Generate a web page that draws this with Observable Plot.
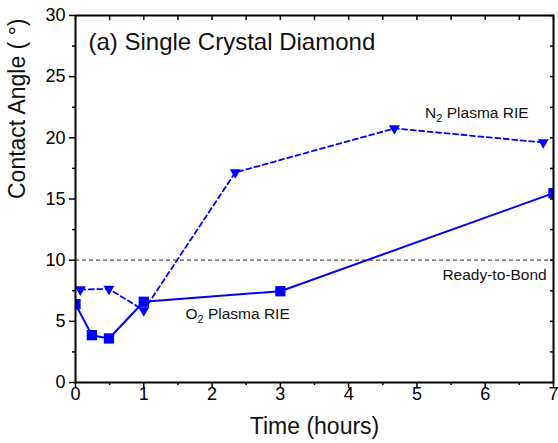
<!DOCTYPE html>
<html>
<head>
<meta charset="utf-8">
<script src="https://cdn.jsdelivr.net/npm/d3@7"></script>
<script src="https://cdn.jsdelivr.net/npm/@observablehq/plot@0.6"></script>
<style>
  html, body { margin: 0; padding: 0; background: #fff; }
</style>
</head>
<body>
<div id="chart"></div>
<script>
// ---- data ----
const o2Time  = [0, 0.24, 0.49, 1.0, 3.0, 7.0];
const o2Angle = [6.4, 3.87, 3.6, 6.6, 7.46, 15.48];
const n2Time  = [0.07, 0.49, 1.0, 2.34, 4.67, 6.85];
const n2Angle = [7.6, 7.65, 5.9, 17.17, 20.77, 19.62];
const readyLevel = [10];
const xMajorTicks = [0, 1, 2, 3, 4, 5, 6, 7];
const xMinorTicks = [0.5, 1.5, 2.5, 3.5, 4.5, 5.5, 6.5];
const yMajorTicks = [0, 5, 10, 15, 20, 25, 30];
const yMinorTicks = [2.5, 7.5, 12.5, 17.5, 22.5, 27.5];
const xTitle = "Time (hours)";
const yTitle = "Contact Angle ( °)";
const titleText = ["(a) Single Crystal Diamond"];
const titleX = [0.19];
const titleY = [27.17];
const seriesLabelText = ["N2 Plasma RIE", "O2 Plasma RIE"];
const seriesLabelX = [5.12, 1.61];
const seriesLabelY = [21.64, 5.23];
const refLabelText = ["Ready-to-Bond"];
const refLabelX = [6.9];
const refLabelY = [8.36];

const o2 = o2Time.map((t, i) => ({t, a: o2Angle[i]}));
const n2 = n2Time.map((t, i) => ({t, a: n2Angle[i]}));
const titles = titleText.map((s, i) => ({s, x: titleX[i], y: titleY[i]}));
const seriesLabels = seriesLabelText.map((s, i) => ({s, x: seriesLabelX[i], y: seriesLabelY[i]}));
const refLabels = refLabelText.map((s, i) => ({s, x: refLabelX[i], y: refLabelY[i]}));

const blue = "#0000ff";
const triangleDown = {
  draw(context, size) {
    const a = Math.sqrt(size * 4 / Math.sqrt(3));
    const h = a * Math.sqrt(3) / 2;
    context.moveTo(-a / 2, -h / 3);
    context.lineTo(a / 2, -h / 3);
    context.lineTo(0, 2 * h / 3);
    context.closePath();
  }
};

const chart = Plot.plot({
  width: 558,
  height: 443,
  marginLeft: 75,
  marginRight: 5,
  marginTop: 15,
  marginBottom: 61,
  x: {domain: [0, 7]},
  y: {domain: [0, 30]},
  style: {fontFamily: "'Liberation Sans', Arial, sans-serif", background: "#fff", color: "#000"},
  marks: [
    Plot.ruleY(readyLevel, {stroke: "#555", strokeWidth: 1.2, strokeDasharray: "4,3"}),
    Plot.line(n2, {x: "t", y: "a", stroke: blue, strokeWidth: 1.8, strokeDasharray: "5,3.5", clip: true}),
    Plot.line(o2, {x: "t", y: "a", stroke: blue, strokeWidth: 2, clip: true}),
    Plot.dot(n2, {x: "t", y: "a", symbol: triangleDown, r: 4.1, fill: blue, stroke: "none", clip: true}),
    Plot.dot(o2, {x: "t", y: "a", symbol: "square", r: 5.8, fill: blue, stroke: "none", clip: true}),
    Plot.text(titles, {x: "x", y: "y", text: "s", textAnchor: "start", lineAnchor: "bottom", fontSize: 24, fill: "#111"}),
    Plot.text(seriesLabels, {x: "x", y: "y", text: "s", textAnchor: "start", lineAnchor: "bottom", fontSize: 15.5, fill: "#111"}),
    Plot.text(refLabels, {x: "x", y: "y", text: "s", textAnchor: "end", lineAnchor: "bottom", fontSize: 15.5, fill: "#111"}),
    // axes
    Plot.axisY(yMajorTicks, {anchor: "left", tickSize: 6, tickPadding: 4, fontSize: 18, strokeWidth: 1.5, label: null}),
    Plot.axisY(yMinorTicks, {anchor: "left", tickSize: 3, tickFormat: () => "", strokeWidth: 1.5, label: null}),
    Plot.axisX(xMajorTicks, {anchor: "bottom", tickSize: 6, tickPadding: -1, fontSize: 18, strokeWidth: 1.5, label: null}),
    Plot.axisX(xMinorTicks, {anchor: "bottom", tickSize: 3, tickFormat: () => "", strokeWidth: 1.5, label: null}),
    Plot.axisX(xMajorTicks.concat(xMinorTicks), {anchor: "top", tickSize: 4, dy: 4, tickFormat: () => "", strokeWidth: 1.5, label: null}),
    Plot.axisY(yMajorTicks.concat(yMinorTicks), {anchor: "right", tickSize: 4, dx: -4, tickFormat: () => "", strokeWidth: 1.5, label: null}),
    Plot.frame({stroke: "#000", strokeWidth: 2}),
    Plot.text([xTitle], {frameAnchor: "bottom", dy: 51, lineAnchor: "bottom", fontSize: 23, fill: "#111"}),
    Plot.text([yTitle], {frameAnchor: "left", rotate: -90, dx: -51, lineAnchor: "bottom", fontSize: 23, fill: "#111"})
  ]
});

// subscripts for N2 / O2
chart.querySelectorAll("text").forEach(el => {
  const m = /^([NO])2 (.*)$/.exec(el.textContent);
  if (!m) return;
  while (el.firstChild) el.removeChild(el.firstChild);
  const ns = "http://www.w3.org/2000/svg";
  const a = document.createElementNS(ns, "tspan"); a.textContent = m[1];
  const b = document.createElementNS(ns, "tspan"); b.textContent = "2";
  b.setAttribute("font-size", "11"); b.setAttribute("dy", "4");
  const c = document.createElementNS(ns, "tspan"); c.textContent = " " + m[2];
  c.setAttribute("dy", "-4");
  el.append(a, b, c);
});

document.getElementById("chart").appendChild(chart);
</script>
</body>
</html>
